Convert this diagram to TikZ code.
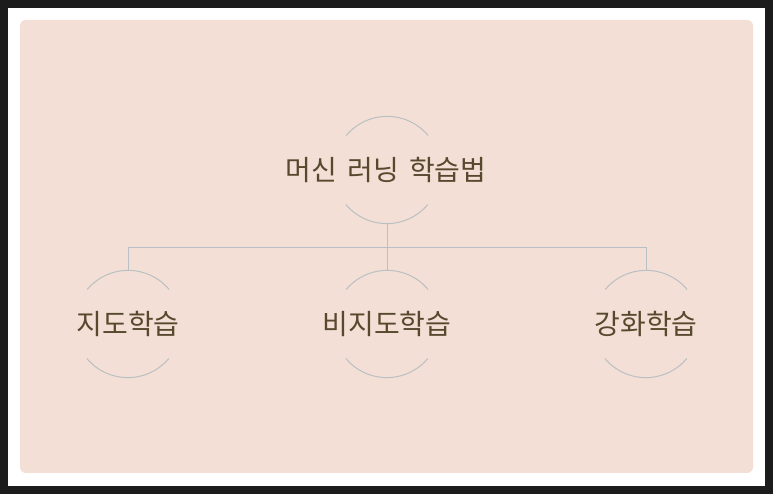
\documentclass[tikz,border=0pt]{standalone}
\usepackage{fontspec}
\newfontfamily\kor{Noto Sans CJK KR}
\definecolor{frame}{HTML}{1C1C1C}
\definecolor{panel}{HTML}{F3DFD5}
\definecolor{ringcol}{HTML}{B9C0C3}
\definecolor{txt}{HTML}{57492E}
\tikzset{ring/.style={circle,minimum size=107pt,inner sep=0pt},
  lbl/.style={font=\kor\fontsize{28pt}{28pt}\selectfont,text=txt,inner sep=0pt},
  link/.style={draw=ringcol,line width=1pt}}

\begin{document}
\begin{tikzpicture}[x=1pt,y=1pt]
                    \fill[frame] (0,0) rectangle (773,494);
                    \fill[white] (8,8) rectangle (765,486);
                    \fill[panel,rounded corners=6pt] (20,21) rectangle (753,474);
                    \node[ring] (ml) at (387,324) {};
                    \node[lbl] (mlt) at (386,324) {머신\hspace{4pt} 러닝\hspace{4pt} 학습법};
                    \node[ring] (sl) at (128,170) {};
                    \node[lbl] (slt) at (sl) {지도학습};
                    \node[ring] (ul) at (387,170) {};
                    \node[lbl] (ult) at (ul) {비지도학습};
                    \node[ring] (rl) at (646,170) {};
                    \node[lbl] (rlt) at (rl) {강화학습};
                    \foreach \n in {ml,sl,ul,rl}{
                      \draw[link] (\n.40) arc (40:140:53.5);
                      \draw[link] (\n.220) arc (220:320:53.5);}
                    \coordinate (bar) at (387,246);
                    \draw[link] (ml.south)--(bar);
                    \draw[link] (sl.north)|-(bar);
                    \draw[link] (ul.north)--(bar);
                    \draw[link] (rl.north)|-(bar);
        \end{tikzpicture}
\end{document}
